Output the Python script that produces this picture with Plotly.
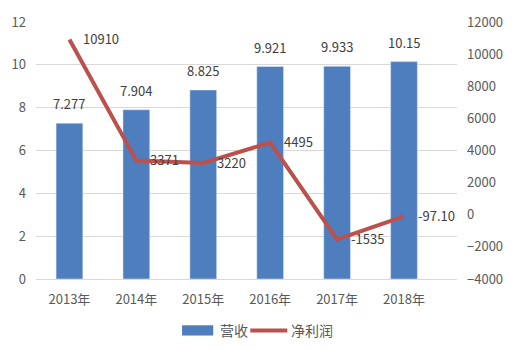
import plotly.graph_objects as go

years = ["2013年", "2014年", "2015年", "2016年", "2017年", "2018年"]
revenue = [7.277, 7.904, 8.825, 9.921, 9.933, 10.15]
revenue_labels = ["7.277", "7.904", "8.825", "9.921", "9.933", "10.15"]
profit = [10910, 3371, 3220, 4495, -1535, -97.10]
profit_labels = ["10910", "3371", "3220", "4495", "-1535", "-97.10"]

BAR_COLOR = "#4F7EBE"
LINE_COLOR = "#BC504C"
TEXT_COLOR = "#595959"
FONT = "Noto Sans CJK SC, Noto Sans, sans-serif"

fig = go.Figure()
fig.add_trace(go.Bar(
    x=years, y=revenue, name="营收", marker_color=BAR_COLOR,
    width=0.4, showlegend=False,
))
fig.add_trace(go.Scatter(
    x=years, y=profit, name="净利润", mode="lines", yaxis="y2",
    line=dict(color=LINE_COLOR, width=4), showlegend=False,
))

annotations = []
for x, v, t in zip(years, revenue, revenue_labels):
    annotations.append(dict(
        x=x, y=v, xref="x", yref="y", text=t, showarrow=False,
        yanchor="bottom", yshift=8, font=dict(size=13, color="#404040", family=FONT),
    ))
for x, v, t in zip(years, profit, profit_labels):
    annotations.append(dict(
        x=x, y=v, xref="x", yref="y2", text=t, showarrow=False,
        xanchor="left", xshift=12, yshift=1,
        font=dict(size=13, color="#404040", family=FONT),
    ))

# hand-built legend below the plot area
annotations += [
    dict(x=0.433, y=-0.2, xref="paper", yref="paper", text="营收", showarrow=False,
         xanchor="left", yanchor="middle", font=dict(size=14, color=TEXT_COLOR, family=FONT)),
    dict(x=0.6, y=-0.2, xref="paper", yref="paper", text="净利润", showarrow=False,
         xanchor="left", yanchor="middle", font=dict(size=14, color=TEXT_COLOR, family=FONT)),
]
shapes = [
    dict(type="rect", xref="paper", yref="paper", x0=0.347, x1=0.421, y0=-0.22, y1=-0.18,
         fillcolor=BAR_COLOR, line=dict(width=0)),
    dict(type="line", xref="paper", yref="paper", x0=0.509, x1=0.597, y0=-0.2, y1=-0.2,
         line=dict(color=LINE_COLOR, width=4)),
]

fig.update_layout(
    width=515, height=350,
    margin=dict(l=30, r=53, t=15, b=71),
    paper_bgcolor="white", plot_bgcolor="white",
    font=dict(family=FONT, size=12, color=TEXT_COLOR),
    bargap=0.6,
    xaxis=dict(showgrid=False, showline=True, linecolor="#D9D9D9", ticks="",
               tickfont=dict(size=13, color=TEXT_COLOR), ticklabelstandoff=8),
    yaxis=dict(range=[0, 12], dtick=2, gridcolor="#D9D9D9", zeroline=False,
               showline=False, tickfont=dict(size=13, color=TEXT_COLOR), ticklabelstandoff=9),
    yaxis2=dict(range=[-4000, 12000], dtick=2000, overlaying="y", side="right",
                showgrid=False, zeroline=False, showline=False, tickformat="d",
                tickfont=dict(size=13, color=TEXT_COLOR), ticklabelstandoff=9),
    annotations=annotations, shapes=shapes,
)

fig.write_html("out.html")
